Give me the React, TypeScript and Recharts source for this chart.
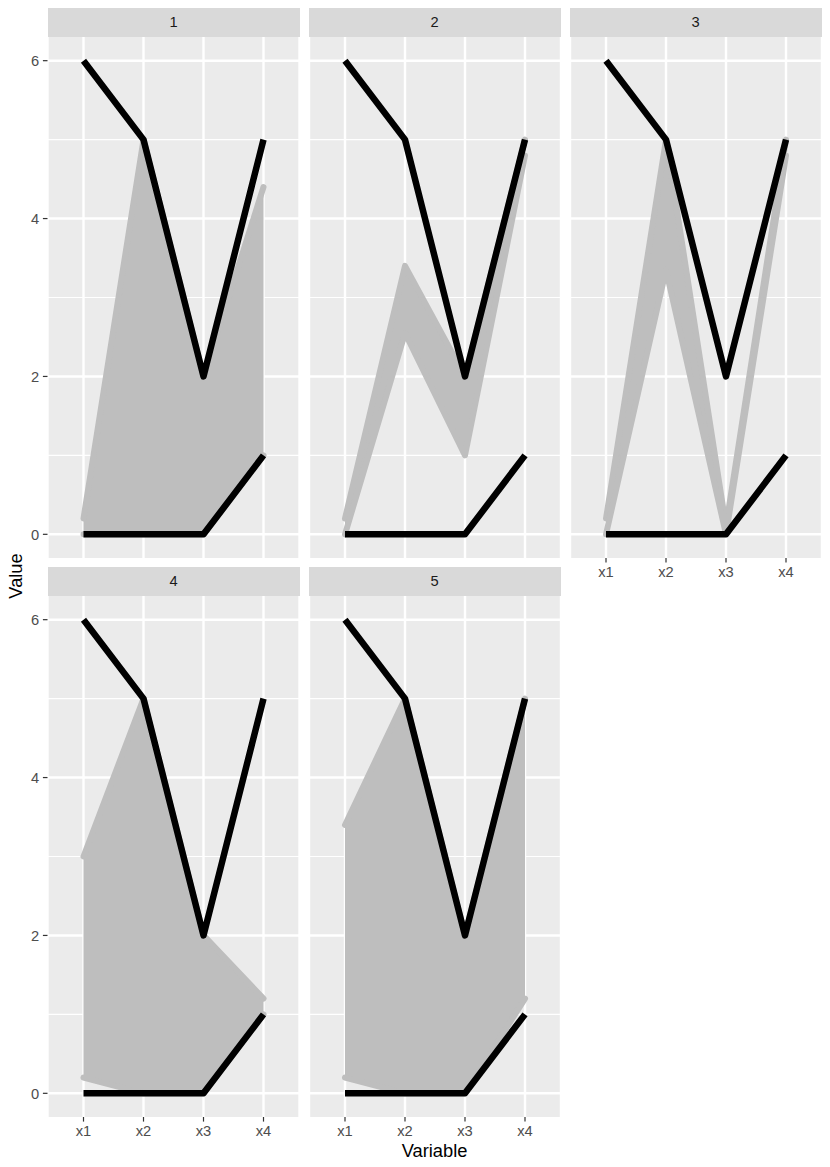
import React from "react";
import { ComposedChart, Area, Line, XAxis, YAxis, CartesianGrid } from "recharts";

// parallel coordinates: variables on x, one facet per cluster
const VARIABLES = ["x1", "x2", "x3", "x4"];
const MAX_LINE = [6, 5, 2, 5];
const MIN_LINE = [0, 0, 0, 1];
const MAJOR_Y = [0, 2, 4, 6];
const MINOR_Y = [1, 3, 5];

const CLUSTER_LABELS = ["1", "2", "3", "4", "5"];
// gray band of each cluster: lowest / highest observation on each variable
const LOW_1 = [0, 0, 0, 1.0];
const HIGH_1 = [0.2, 5, 2, 4.4];
const LOW_2 = [0, 2.55, 1.0, 4.8];
const HIGH_2 = [0.2, 3.4, 2.0, 5.0];
const LOW_3 = [0, 3.35, 0, 4.8];
const HIGH_3 = [0.2, 5, 0.1, 5];
const LOW_4 = [0.2, 0, 0, 1.0];
const HIGH_4 = [3.0, 5, 2, 1.2];
const LOW_5 = [0.2, 0, 0, 1.2];
const HIGH_5 = [3.4, 5, 2, 5];

const LOWS = [LOW_1, LOW_2, LOW_3, LOW_4, LOW_5];
const HIGHS = [HIGH_1, HIGH_2, HIGH_3, HIGH_4, HIGH_5];

const PLOT_W = 252;
const PLOT_H = 521;
const STRIP_H = 29;
const GAP = 9;
const LEFT0 = 47.5;
const TOP0 = 7.5;
const Y_AXIS_W = 47.5;
const X_AXIS_H = 30;

function Panel({ label, low, high, col, row, showX, showY }: any) {
  const plotLeft = LEFT0 + col * (PLOT_W + GAP);
  const stripTop = TOP0 + row * (STRIP_H + PLOT_H + GAP);
  const plotTop = stripTop + STRIP_H;
  const data = VARIABLES.map((v, i) => ({
    variable: v,
    range: [low[i], high[i]],
    max: MAX_LINE[i],
    min: MIN_LINE[i],
  }));
  const chartLeft = showY ? plotLeft - Y_AXIS_W : plotLeft;

  return (
    <>
      <div
        style={{
          position: "absolute",
          left: plotLeft,
          top: stripTop,
          width: PLOT_W,
          height: STRIP_H,
          background: "#D9D9D9",
          display: "flex",
          alignItems: "center",
          justifyContent: "center",
          fontSize: 14.7,
          color: "#1A1A1A",
        }}
      >
        {label}
      </div>
      <div style={{ position: "absolute", left: chartLeft, top: plotTop }}>
        <ComposedChart
          width={PLOT_W + (showY ? Y_AXIS_W : 0)}
          height={PLOT_H + (showX ? X_AXIS_H : 0)}
          data={data}
          margin={{ top: 0, right: 0, bottom: 0, left: 0 }}
        >
          <CartesianGrid fill="#EBEBEB" fillOpacity={1} stroke="#FFFFFF" strokeWidth={2.4} horizontalValues={MAJOR_Y} />
          <CartesianGrid stroke="#FFFFFF" strokeWidth={1.2} horizontalValues={MINOR_Y} vertical={false} />
          <XAxis
            dataKey="variable"
            type="category"
            padding={{ left: 36, right: 36 }}
            hide={!showX}
            height={X_AXIS_H}
            axisLine={false}
            tickLine={{ stroke: "#333333", strokeWidth: 1.2 }}
            tickSize={4.6}
            tickMargin={3.7}
            tick={{ fill: "#4D4D4D", fontSize: 14.7 }}
            interval={0}
          />
          <YAxis
            type="number"
            domain={[-0.3, 6.3]}
            ticks={MAJOR_Y}
            allowDataOverflow
            hide={!showY}
            width={Y_AXIS_W}
            axisLine={false}
            tickLine={{ stroke: "#333333", strokeWidth: 1.2 }}
            tickSize={4.6}
            tickMargin={3.7}
            tick={{ fill: "#4D4D4D", fontSize: 14.7 }}
          />
          <Area
            type="linear"
            dataKey="range"
            fill="#BEBEBE"
            fillOpacity={1}
            stroke="#BEBEBE"
            strokeWidth={6}
            strokeLinecap="round"
            strokeLinejoin="round"
            dot={false}
            activeDot={false}
            isAnimationActive={false}
          />
          <Line
            type="linear"
            dataKey="max"
            stroke="#000000"
            strokeWidth={6.5}
            strokeLinejoin="round"
            dot={false}
            activeDot={false}
            isAnimationActive={false}
          />
          <Line
            type="linear"
            dataKey="min"
            stroke="#000000"
            strokeWidth={6.5}
            strokeLinejoin="round"
            dot={false}
            activeDot={false}
            isAnimationActive={false}
          />
        </ComposedChart>
      </div>
    </>
  );
}

export default function App() {
  return (
    <div
      style={{
        position: "absolute",
        left: 0,
        top: 0,
        width: 830,
        height: 1167,
        background: "#FFFFFF",
        fontFamily: "'Liberation Sans', Arial, sans-serif",
      }}
    >
      {CLUSTER_LABELS.map((lab, i) => {
        const col = i % 3;
        const row = Math.floor(i / 3);
        return (
          <Panel
            key={lab}
            label={lab}
            low={LOWS[i]}
            high={HIGHS[i]}
            col={col}
            row={row}
            showY={col === 0}
            showX={row === 1 || col === 2}
          />
        );
      })}
      <div
        style={{
          position: "absolute",
          left: 16,
          top: 576,
          transform: "translate(-50%, -50%) rotate(-90deg)",
          fontSize: 18.3,
          color: "#000000",
          whiteSpace: "nowrap",
        }}
      >
        Value
      </div>
      <div
        style={{
          position: "absolute",
          left: 434.5,
          top: 1150.5,
          transform: "translate(-50%, -50%)",
          fontSize: 18.3,
          color: "#000000",
          whiteSpace: "nowrap",
        }}
      >
        Variable
      </div>
    </div>
  );
}
